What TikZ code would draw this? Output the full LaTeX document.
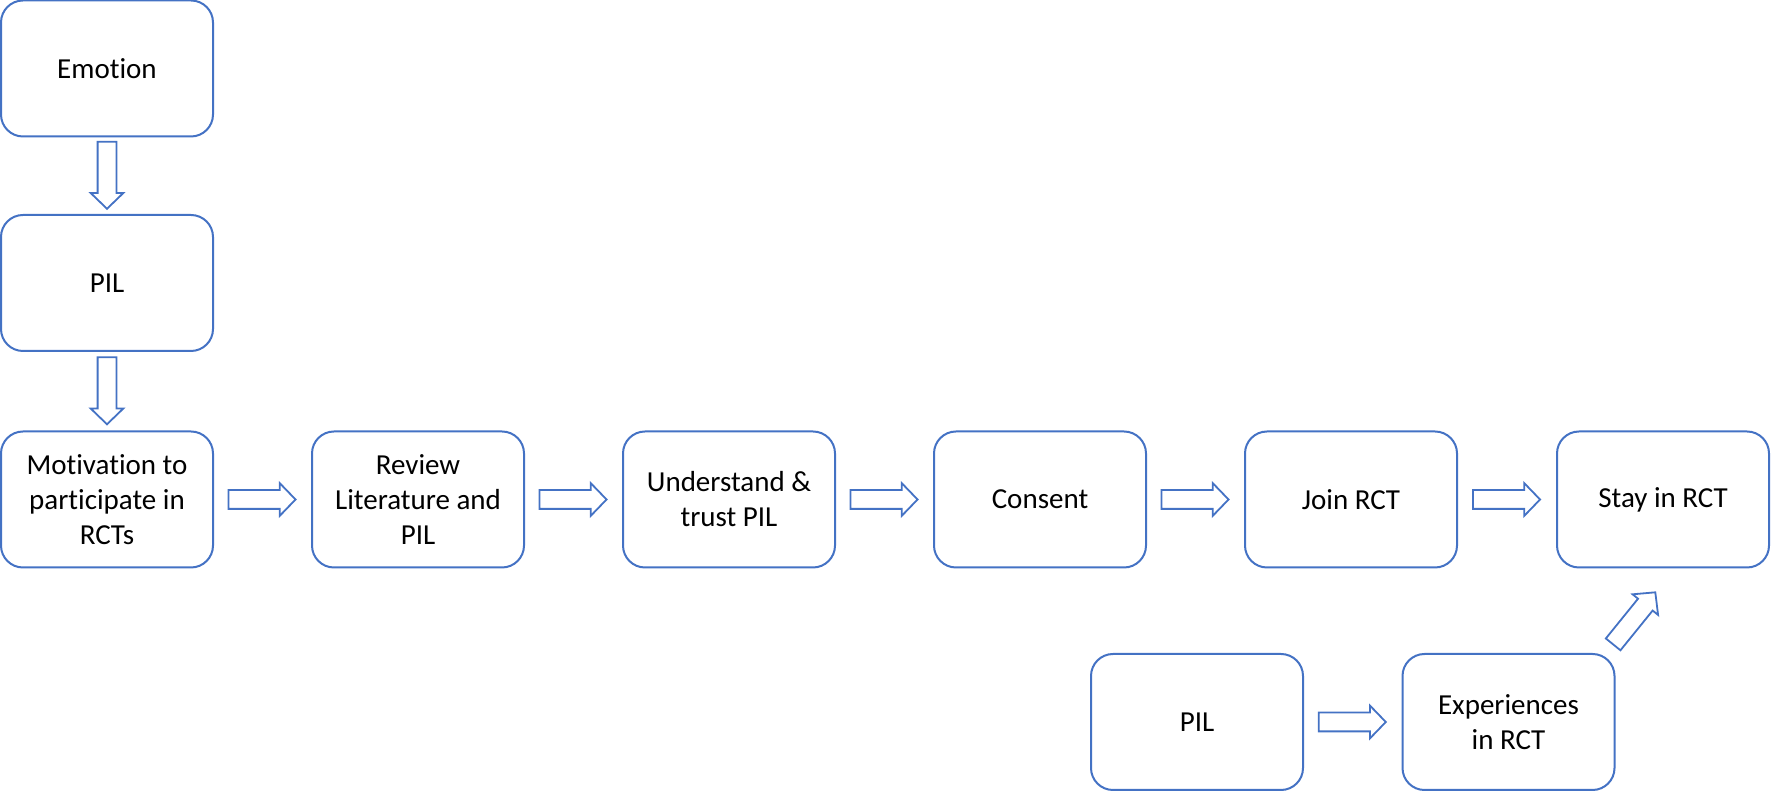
\documentclass[tikz,border=0pt]{standalone}
\usepackage{fontspec}
\setmainfont{Carlito}[Ligatures=NoCommon]
\usetikzlibrary{shapes.arrows,calc}
\definecolor{boxblue}{HTML}{4472C4}
\begin{document}
\begin{tikzpicture}[x=1pt,y=1pt,
  box/.style={draw=boxblue, line width=2pt, rounded corners=22pt,
    minimum width=212pt, minimum height=136pt, align=center,
    font=\fontsize{29}{35}\selectfont, inner sep=0pt},
  barrow/.style={single arrow, draw=boxblue, fill=white, line width=1.8pt,
    minimum height=67pt, inner xsep=0pt, inner ysep=8.5pt,
    single arrow head extend=7pt, single arrow tip angle=92,
    rotate=#1, xshift=-5pt},
  barrow/.default=0]
\useasboundingbox (0,0) rectangle (1771,791);
\node[box] (emo) at (107,722.5) {Emotion};
\node[box] (pil1) at (107,508) {PIL};
\node[box] (mot) at (107,291.5) {Motivation to\\participate in\\RCTs};
\node[box] (rev) at (418,291.5) {Review\\Literature and\\PIL};
\node[box] (und) at (729,291.5) {Understand \&\\trust PIL};
\node[box] (con) at (1040,291.5) {Consent};
\node[box] (join) at (1351,291.5) {Join RCT};
\node[box] (stay) at (1663,291.5) {Stay in RCT};
\node[box] (pil2) at (1197,69) {PIL};
\node[box] (exp) at (1508.5,69) {Experiences\\in RCT};
\node[barrow=-90] (a1) at ($(emo.south)!0.5!(pil1.north)$) {};
\node[barrow=-90] (a2) at ($(pil1.south)!0.5!(mot.north)$) {};
\node[barrow] (a3) at ($(mot.east)!0.5!(rev.west)$) {};
\node[barrow] (a4) at ($(rev.east)!0.5!(und.west)$) {};
\node[barrow] (a5) at ($(und.east)!0.5!(con.west)$) {};
\node[barrow] (a6) at ($(con.east)!0.5!(join.west)$) {};
\node[barrow] (a7) at ($(join.east)!0.5!(stay.west)$) {};
\node[barrow] (a8) at ($(pil2.east)!0.5!(exp.west)$) {};
\node[barrow=51] (a9) at ($(exp.north east)+(19,35)$) {};
\end{tikzpicture}
\end{document}
